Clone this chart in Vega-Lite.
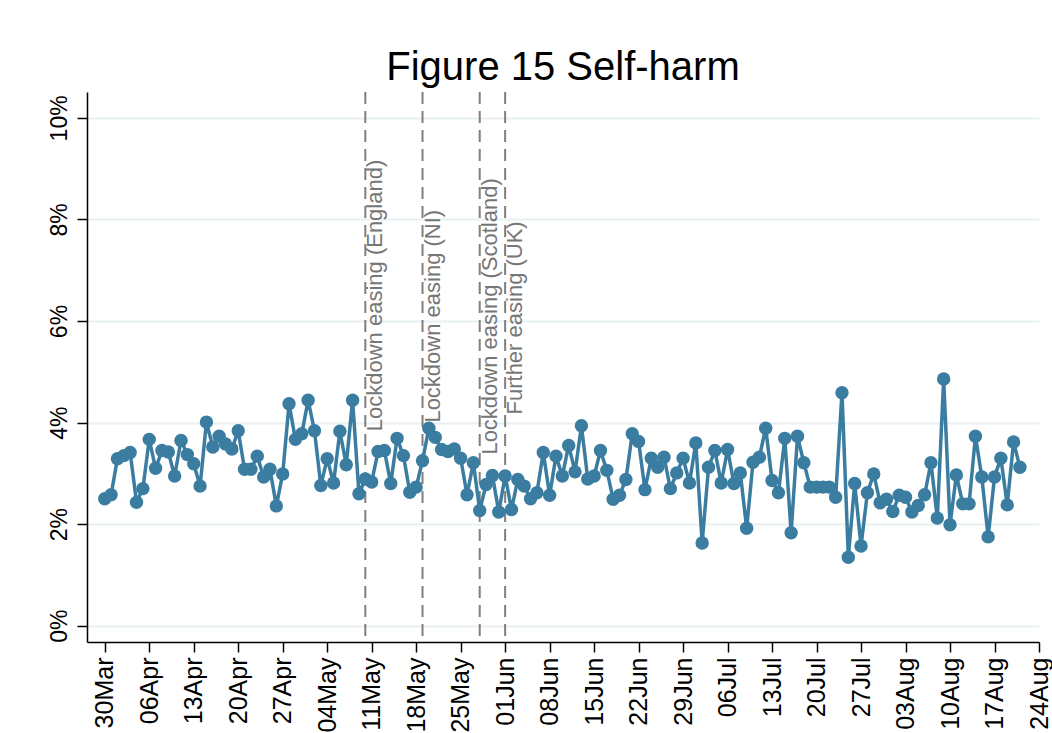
{
  "$schema": "https://vega.github.io/schema/vega-lite/v6.json",
  "width": 952,
  "height": 550,
  "autosize": "none",
  "padding": {"left": 87, "top": 92, "right": 13, "bottom": 91},
  "background": "white",
  "config": {"view": {"stroke": null}, "font": "Liberation Sans"},
  "title": {"text": "Figure 15 Self-harm", "fontSize": 40, "font": "Liberation Sans", "fontWeight": "normal", "color": "black", "anchor": "middle", "frame": "group", "baseline": "alphabetic", "offset": 10, "dy": 39},
  "datasets": {
    "s": [
      {"d":"2020-03-30","v":2.50},{"d":"2020-03-31","v":2.58},{"d":"2020-04-01","v":3.29},{"d":"2020-04-02","v":3.35},{"d":"2020-04-03","v":3.41},
      {"d":"2020-04-04","v":2.43},{"d":"2020-04-05","v":2.70},{"d":"2020-04-06","v":3.67},{"d":"2020-04-07","v":3.10},{"d":"2020-04-08","v":3.45},
      {"d":"2020-04-09","v":3.42},{"d":"2020-04-10","v":2.95},{"d":"2020-04-11","v":3.65},{"d":"2020-04-12","v":3.37},{"d":"2020-04-13","v":3.19},
      {"d":"2020-04-14","v":2.75},{"d":"2020-04-15","v":4.01},{"d":"2020-04-16","v":3.52},{"d":"2020-04-17","v":3.73},{"d":"2020-04-18","v":3.58},
      {"d":"2020-04-19","v":3.48},{"d":"2020-04-20","v":3.84},{"d":"2020-04-21","v":3.08},{"d":"2020-04-22","v":3.08},{"d":"2020-04-23","v":3.34},
      {"d":"2020-04-24","v":2.93},{"d":"2020-04-25","v":3.08},{"d":"2020-04-26","v":2.36},{"d":"2020-04-27","v":2.99},{"d":"2020-04-28","v":4.37},
      {"d":"2020-04-29","v":3.67},{"d":"2020-04-30","v":3.78},{"d":"2020-05-01","v":4.44},{"d":"2020-05-02","v":3.84},{"d":"2020-05-03","v":2.76},
      {"d":"2020-05-04","v":3.29},{"d":"2020-05-05","v":2.81},{"d":"2020-05-06","v":3.83},{"d":"2020-05-07","v":3.17},{"d":"2020-05-08","v":4.44},
      {"d":"2020-05-09","v":2.60},{"d":"2020-05-10","v":2.89},{"d":"2020-05-11","v":2.83},{"d":"2020-05-12","v":3.43},{"d":"2020-05-13","v":3.45},
      {"d":"2020-05-14","v":2.80},{"d":"2020-05-15","v":3.69},{"d":"2020-05-16","v":3.35},{"d":"2020-05-17","v":2.63},{"d":"2020-05-18","v":2.73},
      {"d":"2020-05-19","v":3.25},{"d":"2020-05-20","v":3.89},{"d":"2020-05-21","v":3.71},{"d":"2020-05-22","v":3.47},{"d":"2020-05-23","v":3.43},
      {"d":"2020-05-24","v":3.48},{"d":"2020-05-25","v":3.30},{"d":"2020-05-26","v":2.58},{"d":"2020-05-27","v":3.21},{"d":"2020-05-28","v":2.27},
      {"d":"2020-05-29","v":2.78},{"d":"2020-05-30","v":2.96},{"d":"2020-05-31","v":2.24},{"d":"2020-06-01","v":2.95},{"d":"2020-06-02","v":2.29},
      {"d":"2020-06-03","v":2.88},{"d":"2020-06-04","v":2.75},{"d":"2020-06-05","v":2.50},{"d":"2020-06-06","v":2.62},{"d":"2020-06-07","v":3.41},
      {"d":"2020-06-08","v":2.57},{"d":"2020-06-09","v":3.34},{"d":"2020-06-10","v":2.95},{"d":"2020-06-11","v":3.55},{"d":"2020-06-12","v":3.03},
      {"d":"2020-06-13","v":3.94},{"d":"2020-06-14","v":2.89},{"d":"2020-06-15","v":2.95},{"d":"2020-06-16","v":3.45},{"d":"2020-06-17","v":3.06},
      {"d":"2020-06-18","v":2.49},{"d":"2020-06-19","v":2.57},{"d":"2020-06-20","v":2.88},{"d":"2020-06-21","v":3.78},{"d":"2020-06-22","v":3.63},
      {"d":"2020-06-23","v":2.68},{"d":"2020-06-24","v":3.30},{"d":"2020-06-25","v":3.12},{"d":"2020-06-26","v":3.32},{"d":"2020-06-27","v":2.70},
      {"d":"2020-06-28","v":3.01},{"d":"2020-06-29","v":3.30},{"d":"2020-06-30","v":2.81},{"d":"2020-07-01","v":3.60},{"d":"2020-07-02","v":1.63},
      {"d":"2020-07-03","v":3.12},{"d":"2020-07-04","v":3.45},{"d":"2020-07-05","v":2.81},{"d":"2020-07-06","v":3.47},{"d":"2020-07-07","v":2.80},
      {"d":"2020-07-08","v":3.01},{"d":"2020-07-09","v":1.92},{"d":"2020-07-10","v":3.22},{"d":"2020-07-11","v":3.32},{"d":"2020-07-12","v":3.89},
      {"d":"2020-07-13","v":2.86},{"d":"2020-07-14","v":2.62},{"d":"2020-07-15","v":3.69},{"d":"2020-07-16","v":1.83},{"d":"2020-07-17","v":3.73},
      {"d":"2020-07-18","v":3.21},{"d":"2020-07-19","v":2.73},{"d":"2020-07-20","v":2.73},{"d":"2020-07-21","v":2.73},{"d":"2020-07-22","v":2.73},
      {"d":"2020-07-23","v":2.53},{"d":"2020-07-24","v":4.59},{"d":"2020-07-25","v":1.35},{"d":"2020-07-26","v":2.80},{"d":"2020-07-27","v":1.57},
      {"d":"2020-07-28","v":2.62},{"d":"2020-07-29","v":2.99},{"d":"2020-07-30","v":2.42},{"d":"2020-07-31","v":2.49},{"d":"2020-08-01","v":2.25},
      {"d":"2020-08-02","v":2.57},{"d":"2020-08-03","v":2.53},{"d":"2020-08-04","v":2.24},{"d":"2020-08-05","v":2.37},{"d":"2020-08-06","v":2.58},
      {"d":"2020-08-07","v":3.21},{"d":"2020-08-08","v":2.12},{"d":"2020-08-09","v":4.86},{"d":"2020-08-10","v":1.99},{"d":"2020-08-11","v":2.97},
      {"d":"2020-08-12","v":2.40},{"d":"2020-08-13","v":2.40},{"d":"2020-08-14","v":3.73},{"d":"2020-08-15","v":2.93},{"d":"2020-08-16","v":1.75},
      {"d":"2020-08-17","v":2.93},{"d":"2020-08-18","v":3.30},{"d":"2020-08-19","v":2.38},{"d":"2020-08-20","v":3.62},{"d":"2020-08-21","v":3.12}
    ],
    "ev": [
      {"d":"2020-05-10","v":3.83,"lab":"Lockdown easing (England)"},
      {"d":"2020-05-19","v":4.0,"lab":"Lockdown easing (NI)"},
      {"d":"2020-05-28","v":3.37,"lab":"Lockdown easing (Scotland)"},
      {"d":"2020-06-01","v":4.16,"lab":"Further easing (UK)"}
    ]
  },
  "encoding": {
    "x": {
      "field": "d", "type": "temporal",
      "scale": {"type": "utc", "domain": [{"year":2020,"month":3,"date":27,"hours":5,"utc":true},{"year":2020,"month":8,"date":24,"utc":true}], "nice": false},
      "axis": {
        "title": null, "grid": false, "format": "%d%b",
        "values": [
          {"year":2020,"month":3,"date":30,"utc":true},{"year":2020,"month":4,"date":6,"utc":true},{"year":2020,"month":4,"date":13,"utc":true},
          {"year":2020,"month":4,"date":20,"utc":true},{"year":2020,"month":4,"date":27,"utc":true},{"year":2020,"month":5,"date":4,"utc":true},
          {"year":2020,"month":5,"date":11,"utc":true},{"year":2020,"month":5,"date":18,"utc":true},{"year":2020,"month":5,"date":25,"utc":true},
          {"year":2020,"month":6,"date":1,"utc":true},{"year":2020,"month":6,"date":8,"utc":true},{"year":2020,"month":6,"date":15,"utc":true},
          {"year":2020,"month":6,"date":22,"utc":true},{"year":2020,"month":6,"date":29,"utc":true},{"year":2020,"month":7,"date":6,"utc":true},
          {"year":2020,"month":7,"date":13,"utc":true},{"year":2020,"month":7,"date":20,"utc":true},{"year":2020,"month":7,"date":27,"utc":true},
          {"year":2020,"month":8,"date":3,"utc":true},{"year":2020,"month":8,"date":10,"utc":true},{"year":2020,"month":8,"date":17,"utc":true},
          {"year":2020,"month":8,"date":24,"utc":true}
        ],
        "labelAngle": 270, "labelAlign": "right", "labelBaseline": "middle",
        "labelFontSize": 25, "labelColor": "black", "labelPadding": 5,
        "labelOverlap": false, "labelFlush": false, "labelBound": false,
        "tickSize": 10, "tickColor": "black", "tickWidth": 1.5,
        "domainColor": "black", "domainWidth": 1.5
      }
    }
  },
  "layer": [
    {
      "data": {"name": "ev"},
      "mark": {"type": "rule", "color": "#7f7f7f", "strokeWidth": 2, "strokeDash": [12, 7]},
      "encoding": {}
    },
    {
      "data": {"name": "ev"},
      "mark": {"type": "text", "angle": 270, "align": "left", "baseline": "top", "fontSize": 22, "color": "#767676", "font": "Liberation Sans"},
      "encoding": {
        "y": {"field": "v", "type": "quantitative"},
        "text": {"field": "lab"}
      }
    },
    {
      "data": {"name": "s"},
      "mark": {"type": "line", "color": "#3a7da0", "strokeWidth": 3.5},
      "encoding": {
        "y": {
          "field": "v", "type": "quantitative",
          "scale": {"domain": [-0.32, 10.51], "nice": false, "zero": false},
          "axis": {
            "title": null, "values": [0, 2, 4, 6, 8, 10], "labelExpr": "datum.value + '%'",
            "labelAngle": 270, "labelAlign": "center", "labelBaseline": "bottom",
            "labelFontSize": 23, "labelColor": "black", "labelPadding": 6,
            "tickSize": 10, "tickColor": "black", "tickWidth": 1.5,
            "domainColor": "black", "domainWidth": 1.5,
            "grid": true, "gridColor": "#e8f0f2", "gridWidth": 2
          }
        }
      }
    },
    {
      "data": {"name": "s"},
      "mark": {"type": "point", "filled": true, "opacity": 1, "color": "#3a7da0", "size": 180},
      "encoding": {
        "y": {"field": "v", "type": "quantitative"}
      }
    }
  ]
}
